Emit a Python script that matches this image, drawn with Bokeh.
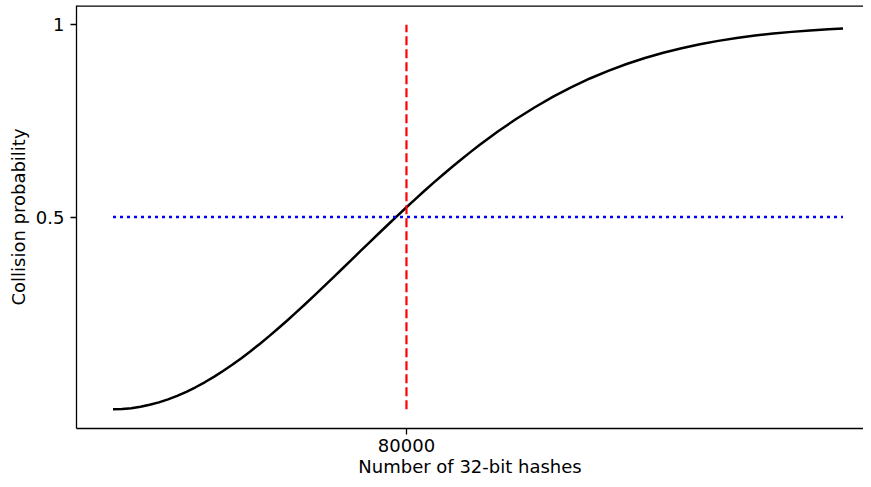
from bokeh.plotting import figure
from bokeh.models import Range1d, FixedTicker, Span
from bokeh.embed import file_html
from bokeh.resources import INLINE

# Curve: number of 32-bit hashes vs collision probability
hashes = [0, 2500, 5000, 7500, 10000, 12500, 15000, 17500, 20000, 22500,
          25000, 27500, 30000, 32500, 35000, 37500, 40000, 42500, 45000, 47500,
          50000, 52500, 55000, 57500, 60000, 62500, 65000, 67500, 70000, 72500,
          75000, 77500, 80000, 82500, 85000, 87500, 90000, 92500, 95000, 97500,
          100000, 105000, 110000, 115000, 120000, 125000, 130000, 135000, 140000, 145000,
          150000, 155000, 160000, 165000, 170000, 175000, 180000, 185000, 190000, 195000,
          199000]
probability = [0.0, 0.0007, 0.0029, 0.0065, 0.0116, 0.0180, 0.0259, 0.0350, 0.0455, 0.0572,
               0.0702, 0.0843, 0.0995, 0.1157, 0.1329, 0.1510, 0.1700, 0.1896, 0.2100, 0.2310,
               0.2525, 0.2745, 0.2969, 0.3195, 0.3424, 0.3654, 0.3885, 0.4117, 0.4347, 0.4577,
               0.4805, 0.5030, 0.5253, 0.5472, 0.5688, 0.5899, 0.6105, 0.6307, 0.6503, 0.6694,
               0.6878, 0.7230, 0.7555, 0.7855, 0.8130, 0.8378, 0.8602, 0.8801, 0.8979, 0.9135,
               0.9271, 0.9390, 0.9492, 0.9580, 0.9654, 0.9717, 0.9770, 0.9814, 0.9850, 0.9880,
               0.9901]

# Reference lines
marker_x = [80000, 80000]
marker_y = [0.0, 1.0]
half_x = [0, 199000]
half_y = [0.5, 0.5]

x_ticks = [80000]
y_ticks = [0.5, 1]
y_tick_labels = {0.5: "0.5", 1: "1"}

FONT = "DejaVu Sans"
FS = "18px"
Y_MIN, Y_MAX = -0.05, 1.05

p = figure(width=863, height=479, output_backend="svg", toolbar_location=None,
           x_range=Range1d(-9950, 204590), y_range=Range1d(Y_MIN, Y_MAX),
           min_border_left=76, min_border_right=0, min_border_top=5, min_border_bottom=51)
p.outline_line_color = None
p.xgrid.visible = False
p.ygrid.visible = False
p.background_fill_color = "white"
p.border_fill_color = "white"

p.line(hashes, probability, line_color="black", line_width=2.5, line_join="round")
p.line(marker_x, marker_y, line_color="#ff0000", line_width=2.2, line_dash="9 4")
p.line(half_x, half_y, line_color="#0000ff", line_width=2.3, line_dash="3 4")

# top spine of the frame (half of it is clipped by the frame edge)
p.add_layout(Span(location=Y_MAX, dimension="width", line_color="black", line_width=2.6))

for ax in (p.xaxis[0], p.yaxis[0]):
    ax.axis_line_color = "black"
    ax.axis_line_width = 1.3
    ax.major_tick_line_color = "black"
    ax.major_tick_line_width = 1.3
    ax.major_tick_in = 0
    ax.major_tick_out = 6
    ax.minor_tick_in = 0
    ax.minor_tick_out = 0
    ax.major_label_text_font = FONT
    ax.major_label_text_font_size = FS
    ax.major_label_text_color = "black"
    ax.axis_label_text_font = FONT
    ax.axis_label_text_font_size = FS
    ax.axis_label_text_font_style = "normal"
    ax.axis_label_text_color = "black"

p.xaxis.ticker = FixedTicker(ticks=x_ticks)
p.yaxis.ticker = FixedTicker(ticks=y_ticks)
p.yaxis.major_label_overrides = y_tick_labels
p.xaxis.axis_label = "Number of 32-bit hashes"
p.yaxis.axis_label = "Collision probability"
p.xaxis.major_label_standoff = 4
p.xaxis.axis_label_standoff = 1
p.yaxis.major_label_standoff = 6
p.yaxis.axis_label_standoff = 4

open("out.html", "w").write(file_html(p, INLINE))
